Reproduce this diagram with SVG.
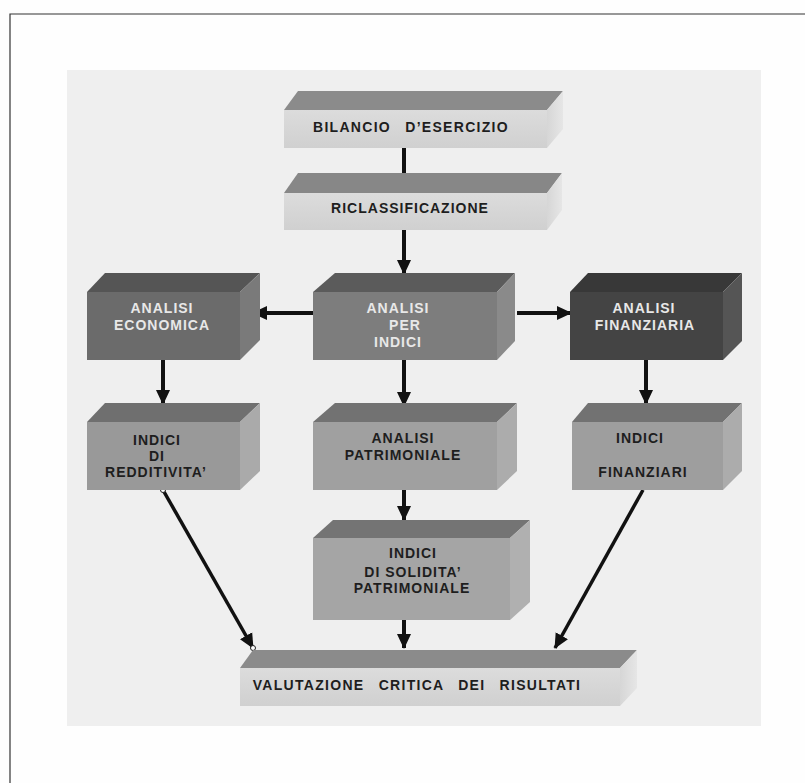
<svg xmlns="http://www.w3.org/2000/svg" width="805" height="783" viewBox="0 0 805 783">
  <defs>
    <style>
      .lbl { font-family: "Liberation Sans", Arial, sans-serif; font-size: 14px; font-weight: bold; text-anchor: middle; letter-spacing: 1px; }
      .wide { letter-spacing: 1.3px; word-spacing: 9px; }
      .dark { fill: #1e1e1e; }
      .light { fill: #e8e8e8; }
      .edge { stroke: #111; stroke-width: 4; fill: none; }
      .diag { stroke: #111; stroke-width: 3.5; fill: none; }
    </style>
    <marker id="arrow" markerUnits="userSpaceOnUse" markerWidth="16" markerHeight="16" viewBox="0 0 16 16" refX="14" refY="8" orient="auto">
      <path d="M0,1 L15,8 L0,15 Z" fill="#111"/>
    </marker>
    <linearGradient id="paleFront" x1="0" y1="0" x2="0" y2="1">
      <stop offset="0" stop-color="#dcdcdc"/>
      <stop offset="1" stop-color="#d0d0d0"/>
    </linearGradient>
    <linearGradient id="paleSide" x1="0" y1="0" x2="1" y2="0">
      <stop offset="0" stop-color="#d6d6d6"/>
      <stop offset="1" stop-color="#e6e6e6"/>
    </linearGradient>
  </defs>

  <!-- page -->
  <rect x="0" y="0" width="805" height="783" fill="#fefefe"/>
  <path d="M10,783 L10,14 L805,14" fill="none" stroke="#333" stroke-width="1.2"/>
  <rect x="67" y="70" width="694" height="656" fill="#efefef"/>

  <!-- connectors -->
  <g id="connectors">
    <line class="edge" x1="404" y1="148" x2="404" y2="174"/>
    <line class="edge" x1="404" y1="230" x2="404" y2="274" marker-end="url(#arrow)"/>
    <line class="edge" x1="313" y1="313" x2="253" y2="313" marker-end="url(#arrow)"/>
    <line class="edge" x1="517" y1="313" x2="571" y2="313" marker-end="url(#arrow)"/>
    <line class="edge" x1="163" y1="360" x2="163" y2="404" marker-end="url(#arrow)"/>
    <line class="edge" x1="404" y1="360" x2="404" y2="406" marker-end="url(#arrow)"/>
    <line class="edge" x1="646" y1="360" x2="646" y2="404" marker-end="url(#arrow)"/>
    <line class="edge" x1="404" y1="490" x2="404" y2="520" marker-end="url(#arrow)"/>
    <line class="edge" x1="404" y1="620" x2="404" y2="648" marker-end="url(#arrow)"/>
    <line class="diag" x1="643" y1="490" x2="555" y2="648" marker-end="url(#arrow)"/>
    <line class="diag" x1="163" y1="490" x2="253" y2="648" marker-end="url(#arrow)"/>
    <circle cx="163" cy="490" r="2.5" fill="#fff" stroke="#222" stroke-width="1"/>
    <circle cx="253" cy="648" r="2.5" fill="#fff" stroke="#222" stroke-width="1"/>
  </g>

  <!-- BILANCIO D'ESERCIZIO -->
  <g id="bilancio">
    <polygon points="284,110 298,91 563,91 547,110" fill="#8b8b8b"/>
    <polygon points="547,110 563,91 563,129 547,148" fill="url(#paleSide)"/>
    <rect x="284" y="110" width="263" height="38" fill="url(#paleFront)"/>
    <text class="lbl dark wide" x="411" y="132">BILANCIO D’ESERCIZIO</text>
  </g>

  <!-- RICLASSIFICAZIONE -->
  <g id="riclassificazione">
    <polygon points="284,193 298,173 562,173 547,193" fill="#878787"/>
    <polygon points="547,193 562,173 562,210 547,230" fill="url(#paleSide)"/>
    <rect x="284" y="193" width="263" height="37" fill="url(#paleFront)"/>
    <text class="lbl dark" x="410" y="213">RICLASSIFICAZIONE</text>
  </g>

  <!-- ANALISI ECONOMICA -->
  <g id="analisi-economica">
    <polygon points="87,292 105,273 260,273 240,292" fill="#555"/>
    <polygon points="240,292 260,273 260,340 240,360" fill="#7a7a7a"/>
    <rect x="87" y="292" width="153" height="68" fill="#6b6b6b"/>
    <text class="lbl light" x="162" y="313">ANALISI</text>
    <text class="lbl light" x="162" y="330">ECONOMICA</text>
  </g>

  <!-- ANALISI PER INDICI -->
  <g id="analisi-per-indici">
    <polygon points="313,292 335,273 515,273 497,292" fill="#5b5b5b"/>
    <polygon points="497,292 515,273 515,341 497,360" fill="#8a8a8a"/>
    <rect x="313" y="292" width="184" height="68" fill="#7d7d7d"/>
    <text class="lbl light" x="398" y="313">ANALISI</text>
    <text class="lbl light" x="405" y="330">PER</text>
    <text class="lbl light" x="398" y="347">INDICI</text>
  </g>

  <!-- ANALISI FINANZIARIA -->
  <g id="analisi-finanziaria">
    <polygon points="570,292 588,273 742,273 723,292" fill="#383838"/>
    <polygon points="723,292 742,273 742,341 723,360" fill="#555"/>
    <rect x="570" y="292" width="153" height="68" fill="#444"/>
    <text class="lbl light" x="644" y="313">ANALISI</text>
    <text class="lbl light" x="645" y="330">FINANZIARIA</text>
  </g>

  <!-- INDICI DI REDDITIVITA' -->
  <g id="indici-redditivita">
    <polygon points="87,422 105,403 260,403 240,422" fill="#6f6f6f"/>
    <polygon points="240,422 260,403 260,471 240,490" fill="#aaa"/>
    <rect x="87" y="422" width="153" height="68" fill="#999"/>
    <text class="lbl dark" x="157" y="445">INDICI</text>
    <text class="lbl dark" x="157" y="461">DI</text>
    <text class="lbl dark" x="156" y="477">REDDITIVITA’</text>
  </g>

  <!-- ANALISI PATRIMONIALE -->
  <g id="analisi-patrimoniale">
    <polygon points="313,422 335,403 517,403 497,422" fill="#727272"/>
    <polygon points="497,422 517,403 517,471 497,490" fill="#acacac"/>
    <rect x="313" y="422" width="184" height="68" fill="#a0a0a0"/>
    <text class="lbl dark" x="403" y="443">ANALISI</text>
    <text class="lbl dark" x="403" y="460">PATRIMONIALE</text>
  </g>

  <!-- INDICI FINANZIARI -->
  <g id="indici-finanziari">
    <polygon points="572,422 588,403 742,403 723,422" fill="#727272"/>
    <polygon points="723,422 742,403 742,471 723,490" fill="#acacac"/>
    <rect x="572" y="422" width="151" height="68" fill="#9e9e9e"/>
    <text class="lbl dark" x="640" y="443">INDICI</text>
    <text class="lbl dark" x="643" y="477">FINANZIARI</text>
  </g>

  <!-- INDICI DI SOLIDITA' PATRIMONIALE -->
  <g id="indici-solidita">
    <polygon points="313,538 333,520 530,520 510,538" fill="#747474"/>
    <polygon points="510,538 530,520 530,602 510,620" fill="#b0b0b0"/>
    <rect x="313" y="538" width="197" height="82" fill="#a5a5a5"/>
    <text class="lbl dark" x="413" y="558">INDICI</text>
    <text class="lbl dark" x="413" y="577">DI SOLIDITA’</text>
    <text class="lbl dark" x="412" y="593">PATRIMONIALE</text>
  </g>

  <!-- VALUTAZIONE CRITICA DEI RISULTATI -->
  <g id="valutazione">
    <polygon points="240,668 253,650 637,650 620,668" fill="#8b8b8b"/>
    <polygon points="620,668 637,650 637,688 620,706" fill="url(#paleSide)"/>
    <rect x="240" y="668" width="380" height="38" fill="url(#paleFront)"/>
    <text class="lbl dark wide" x="417" y="690">VALUTAZIONE CRITICA DEI RISULTATI</text>
  </g>
</svg>
